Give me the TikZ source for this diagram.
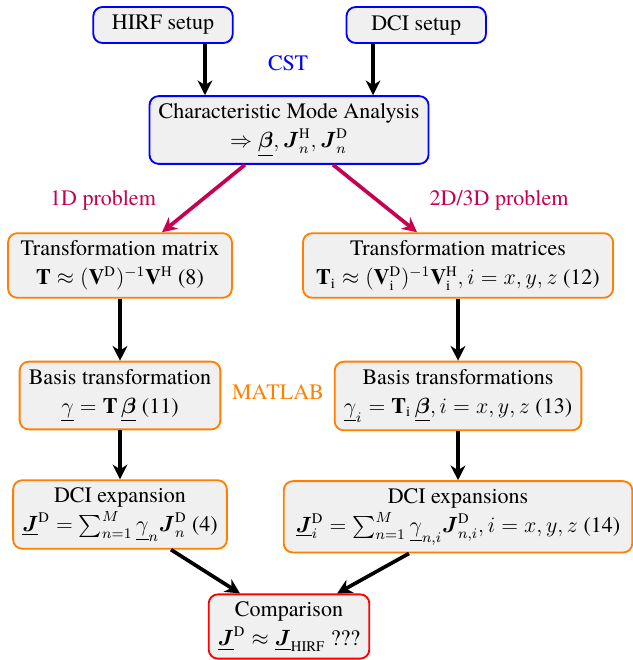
\documentclass[tikz,border=0pt]{standalone}
\usepackage{amsmath,amssymb}
\usepackage{fontspec}
\setmainfont{texgyretermes}[
  Extension=.otf,
  UprightFont=*-regular,
  BoldFont=*-bold,
  ItalicFont=*-italic,
  BoldItalicFont=*-bolditalic]
\usepackage{xcolor}
\usepackage{tikz}
\usetikzlibrary{arrows.meta,positioning}
\definecolor{boxfill}{RGB}{240,240,240}
\definecolor{cstblue}{RGB}{0,0,255}
\definecolor{matorange}{RGB}{255,128,0}
\definecolor{probred}{RGB}{200,0,80}
\tikzset{
  bluebox/.style={
    rectangle,
    rounded corners=5pt,
    draw=cstblue,
    line width=1pt,
    fill=boxfill,
    align=center,
    inner xsep=5pt,
    inner ysep=4pt,
    font=\fontsize{12}{16}\selectfont
  },
  orangebox/.style={
    rectangle,
    rounded corners=5pt,
    draw=matorange,
    line width=1pt,
    fill=boxfill,
    align=center,
    inner xsep=5pt,
    inner ysep=4pt,
    font=\fontsize{12}{16}\selectfont
  },
  redbox/.style={
    rectangle,
    rounded corners=5pt,
    draw=red,
    line width=1pt,
    fill=boxfill,
    align=center,
    inner xsep=5pt,
    inner ysep=4pt,
    font=\fontsize{12}{16}\selectfont
  },
  tag/.style={font=\fontsize{12}{15}\selectfont, inner sep=1pt},
  flow/.style={-{Stealth[length=8pt,width=8pt,inset=2.5pt]}, line width=2pt, black},
  flowred/.style={flow, probred}
}
\begin{document}
\begin{tikzpicture}[x=0.545pt,y=-0.545pt]
\useasboundingbox (0,0) rectangle (632,660);
\node[bluebox, minimum width=76pt, minimum height=19.6pt] (hirf) at (163,25) {HIRF setup};
\node[bluebox, minimum width=76pt, minimum height=19.6pt, right=61pt of hirf] (dci) {DCI setup};
\node[bluebox] (cma) at (289,130) {Characteristic Mode Analysis\\
  $\Rightarrow \underline{\boldsymbol{\beta}}, \boldsymbol{J}_n^{\mathrm{H}}, \boldsymbol{J}_n^{\mathrm{D}}$};
\node[tag, text=cstblue] (cst) at (288,63) {CST};
% 1D and 2D/3D branches
\node[orangebox, minimum width=122pt] (tmat) at (120,265.5) {Transformation matrix\\
  $\mathbf{T} \approx (\mathbf{V}^{\mathrm{D}})^{-1}\mathbf{V}^{\mathrm{H}}$ (8)};
\node[orangebox, minimum width=169pt] (tmats) at (458,265.5) {Transformation matrices\\
  $\mathbf{T}_{\mathrm{i}} \approx (\mathbf{V}_{\mathrm{i}}^{\mathrm{D}})^{-1}\mathbf{V}_{\mathrm{i}}^{\mathrm{H}}, i=x,y,z$ (12)};
\node[tag, text=probred] (p1d) at (103,200) {1D problem};
\node[tag, text=probred] (p3d) at (499,200) {2D/3D problem};
\node[orangebox, below=33.8pt of tmat] (basis) {Basis transformation\\
  $\underline{\gamma} = \mathbf{T}\,\underline{\boldsymbol{\beta}}$ (11)};
\node[orangebox, below=33.8pt of tmats] (bases) {Basis transformations\\
  $\underline{\gamma}_i = \mathbf{T}_{\mathrm{i}}\,\underline{\boldsymbol{\beta}}, i=x,y,z$ (13)};
\node[tag, text=matorange] (matlab) at (278,392) {MATLAB};
\node[orangebox, below=26.7pt of basis] (dciexp) {DCI expansion\\
  $\underline{\boldsymbol{J}}^{\mathrm{D}} = \sum_{n=1}^{M} \underline{\gamma}_n \boldsymbol{J}_n^{\mathrm{D}}$ (4)};
\node[orangebox, minimum width=190pt, below=26.7pt of bases] (dciexps) {DCI expansions\\
  $\underline{\boldsymbol{J}}_i^{\mathrm{D}} = \sum_{n=1}^{M} \underline{\gamma}_{n,i} \boldsymbol{J}_{n,i}^{\mathrm{D}}, i=x,y,z$ (14)};
\node[redbox] (cmp) at (289,626.5) {Comparison\\
  $\underline{\boldsymbol{J}}^{\mathrm{D}} \approx \underline{\boldsymbol{J}}_{\mathrm{HIRF}}$ ???};
% connectors
\coordinate (inH) at ([xshift=-45.8pt]cma.north);
\coordinate (inD) at ([xshift=45.8pt]cma.north);
\draw[flow] (hirf.south -| inH) -- (inH);
\draw[flow] (dci.south -| inD) -- (inD);
\draw[flowred] ([xshift=-24pt]cma.south) -- ([xshift=22.9pt]tmat.north);
\draw[flowred] ([xshift=24pt]cma.south) -- ([xshift=-22.3pt]tmats.north);
\draw[flow] (tmat.south) -- (basis.north);
\draw[flow] (basis.south) -- (dciexp.north);
\draw[flow] (tmats.south) -- (bases.north);
\draw[flow] (bases.south) -- (bases.south |- dciexps.north);
\draw[flow] ([xshift=27.8pt]dciexp.south) -- ([xshift=-26.7pt]cmp.north);
\draw[flow] ([xshift=-26.7pt]dciexps.south) -- ([xshift=26.2pt]cmp.north);
\end{tikzpicture}
\end{document}
